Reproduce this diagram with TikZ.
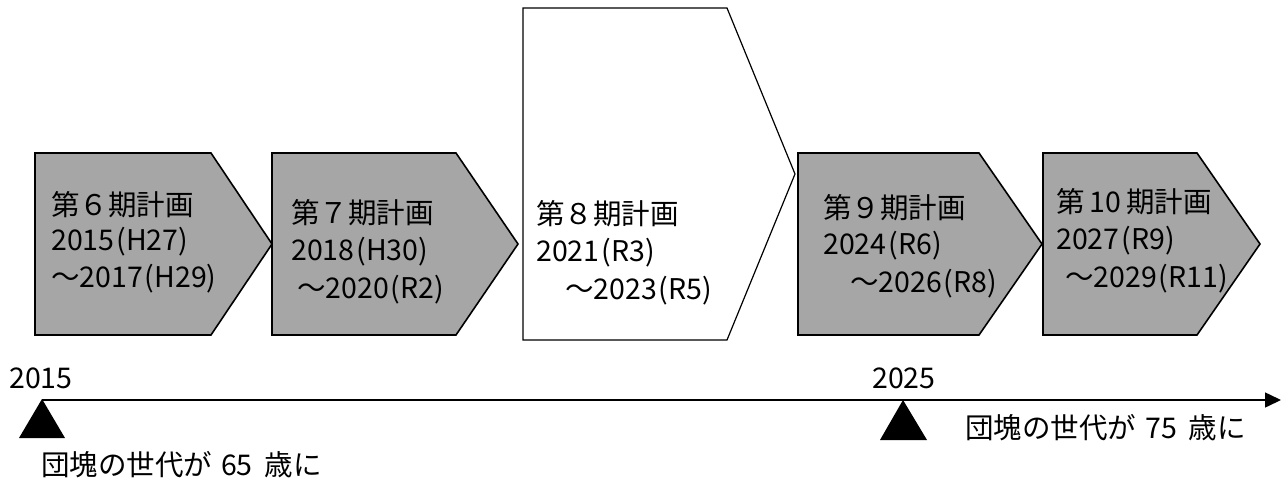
\documentclass[tikz,border=0pt]{standalone}
\usepackage{fontspec}
\setmainfont{Noto Sans CJK JP}
\usetikzlibrary{arrows.meta}
\definecolor{boxgray}{HTML}{A6A6A6}
\begin{document}
\begin{tikzpicture}[x=1pt,y=-1pt,
  plan/.style={draw=black, line width=1.6pt, fill=boxgray, line join=miter},
  planw/.style={draw=black, line width=1.2pt, fill=white, line join=miter},
  txt/.style={anchor=west, inner sep=0pt, font=\fontsize{28.5}{31}\selectfont},
  tmarker/.style={fill=black},
  ]
\useasboundingbox (0,0) rectangle (1288,480);
% plan arrows
\draw[plan] (35,153) -- (211,153) -- (272,244) -- (211,335) -- (35,335) -- cycle;
\draw[plan] (272,153) -- (456,153) -- (518,244) -- (456,335) -- (272,335) -- cycle;
\draw[planw] (523,8) -- (727,8) -- (795,174) -- (727,340) -- (523,340) -- cycle;
\draw[plan] (798,153) -- (979,153) -- (1042,244) -- (979,335) -- (798,335) -- cycle;
\draw[plan] (1043,153) -- (1197,153) -- (1260,244) -- (1197,335) -- (1043,335) -- cycle;
% texts
\node[txt] (p6a) at (51,205) {第６期計画};
\node[txt] (p6b) at (51,242) {2015\hspace{2pt}(H27)};
\node[txt] (p6c) at (51,279) {～2017\hspace{2pt}(H29)};
\node[txt] (p7a) at (291,213) {第７期計画};
\node[txt] (p7b) at (291,252) {2018\hspace{2pt}(H30)};
\node[txt] (p7c) at (297,290) {～2020\hspace{2pt}(R2)};
\node[txt] (p8a) at (536,214) {第８期計画};
\node[txt] (p8b) at (536,253) {2021\hspace{2pt}(R3)};
\node[txt] (p8c) at (565,291) {～2023\hspace{2pt}(R5)};
\node[txt] (p9a) at (823,208) {第９期計画};
\node[txt] (p9b) at (823,246) {2024\hspace{2pt}(R6)};
\node[txt] (p9c) at (850,284) {～2026\hspace{2pt}(R8)};
\node[txt] (p10a) at (1056,202) {第\hspace{5pt}10\hspace{5pt}期計画};
\node[txt] (p10b) at (1056,241) {2027\hspace{2pt}(R9)};
\node[txt] (p10c) at (1065,279) {～2029\hspace{2pt}(R11)};
% timeline
\coordinate (tstart) at (42,400);
\coordinate (tend) at (1281,400);
\draw[line width=1.5pt, -{Triangle[length=16pt,width=15pt]}] (tstart) -- (tend);
\fill[tmarker] (42,399) -- (65,438) -- (19,438) -- cycle;
\fill[tmarker] (903,400) -- (927,440) -- (880,440) -- cycle;
\node[txt] (y2015) at (9,378) {2015};
\node[txt] (y2025) at (872,378) {2025};
\node[txt] (g65) at (41,465) {団塊の世代が\hspace{9pt}65\hspace{12pt}歳に};
\node[txt] (g75) at (965,428) {団塊の世代が\hspace{9pt}75\hspace{12pt}歳に};
\end{tikzpicture}
\end{document}
